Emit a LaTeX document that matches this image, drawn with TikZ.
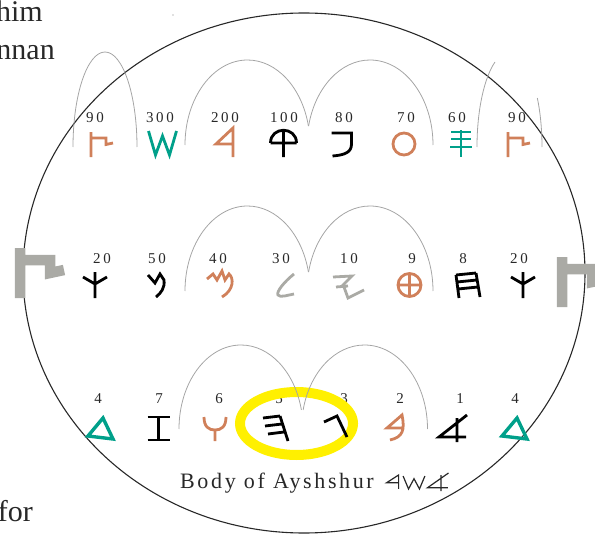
\documentclass[tikz,border=0pt]{standalone}
\usepackage{fontspec}
\setmainfont{Liberation Serif}
\newfontfamily\numfont[LetterSpace=18]{Liberation Serif}
\newfontfamily\bodyfont[LetterSpace=12]{Liberation Serif}

\definecolor{phorange}{RGB}{208,128,90}
\definecolor{phteal}{RGB}{0,160,138}
\definecolor{phgray}{RGB}{170,170,165}
\definecolor{arcgray}{RGB}{165,165,165}
\definecolor{ringyellow}{RGB}{255,240,0}
\definecolor{numgray}{RGB}{40,40,40}

% letter shapes, origin at the top centre, y runs downwards
\tikzset{
  phaleph/.pic={\draw (14,0) -- (-14,22) -- (13,22) (4,3) -- (4,27);},
  phbet/.pic={\draw (8,13) -- (-8,13) -- (7,0) .. controls (10,15) and (8,22) .. (-5,25);},
  phgimel/.pic={\draw (-12,6) -- (1,0) -- (11,21);},
  phdalet/.pic={\draw (3,0) -- (-12,18) -- (13,21) -- cycle;},
  phhe/.pic={\draw (-12,2) -- (5,0) (-10,10) -- (7,8) (-7,18) -- (9,16) (5,0) -- (13,25);},
  phwaw/.pic={\draw (-11,0) .. controls (-11,10) and (-6,13) .. (0,13) .. controls (6,13) and (11,10) .. (11,0) (0,13) -- (0,24);},
  phzayin/.pic={\draw (-11,0) -- (11,0) (-11,23) -- (11,23) (0,0) -- (0,23);},
  phheth/.pic={\draw (-11,2) -- (-8,25) (9,0) -- (13,24) (-11,2) -- (9,0) (-10,9) -- (10,7) (-9,16) -- (11,14);},
  phteth/.pic={\draw (0,13) circle[radius=11.5] (-11.5,13) -- (11.5,13) (0,1.5) -- (0,24.5);},
  phyod/.pic={\draw (-15,3) -- (4,2) -- (-6,12) (-12,13) -- (0,12) (-4,13) -- (0,24) -- (16,16);},
  phkaph/.pic={\draw (0,0) -- (0,26) (-12,5) -- (0,12) -- (12,5);},
  phlamed/.pic={\draw (12,2) .. controls (2,10) and (-6,20) .. (-4,23) .. controls (-2,26) and (6,23) .. (12,22);},
  phmem/.pic={\draw (-13,9) -- (-7,4) -- (-3,10) -- (2,1) -- (5,10) -- (9,4) .. controls (14,8) and (14,20) .. (2,27);},
  phnun/.pic={\draw (-9,3) -- (-2,11) -- (3,2) -- (7,8) .. controls (8,16) and (4,21) .. (-1,25);},
  phsamekh/.pic={\draw (-10,2) -- (10,2) (-10,9) -- (10,9) (-11,17) -- (11,17) (0,0) -- (0,27);},
  phayin/.pic={\draw (0,12) circle[radius=11];},
  phpe/.pic={\draw (-10,1) -- (10,1) -- (10,12) .. controls (10,20) and (4,23) .. (-9,24);},
  phtsade/.pic={\draw (-10,0) -- (-10,25) (-10,6) -- (5,6) -- (5,12.5) -- (12,11);},
  phqoph/.pic={\draw (-13,12) -- (13,12) (-13,12) .. controls (-13,-5) and (13,-5) .. (13,12) (0,-1) -- (0,26);},
  phresh/.pic={\draw (8,29) -- (8,0) -- (-9,16) -- (8,16);},
  phshin/.pic={\draw (-14,0) -- (-7,24) -- (0,5) -- (7,24) -- (14,0);},
}

\begin{document}
\begin{tikzpicture}[x=1pt, y=-1pt,
    glyph/.style={line width=2.8pt, line join=miter},
    num/.style={font=\numfont\fontsize{15}{17}\selectfont, text=numgray, anchor=base, inner sep=0pt},
    pagetext/.style={font=\fontsize{30}{30}\selectfont, text=numgray, anchor=base east, inner sep=0pt},
    arch/.style={arcgray, line width=0.8pt}]
  \useasboundingbox (0,0) rectangle (595,535);
  \clip (0,0) rectangle (595,535);

  % running text at the page edge
  \node[pagetext] (him) at (43,22) {him};
  \node[pagetext] (nnan) at (55,60) {nnan};
  \node[pagetext] (for) at (33,521) {for};
  \fill[numgray!60] (173,15) circle[radius=0.7];

  % outer ring
  \draw[line width=1.1pt, numgray] (304,273) ellipse[x radius=281, y radius=260];

  % values, top row
  \node[num] (v90a) at (95,122) {90};
  \node[num] (v300) at (160,122) {300};
  \node[num] (v200) at (225,122) {200};
  \node[num] (v100) at (284,122) {100};
  \node[num] (v80) at (344,122) {80};
  \node[num] (v70) at (406,122) {70};
  \node[num] (v60) at (457,122) {60};
  \node[num] (v90b) at (517,122) {90};

  % values, middle row
  \node[num] (v20a) at (102,263) {20};
  \node[num] (v50) at (157,263) {50};
  \node[num] (v40) at (218,263) {40};
  \node[num] (v30) at (281,263) {30};
  \node[num] (v10) at (349,263) {10};
  \node[num] (v9) at (412,263) {9};
  \node[num] (v8) at (463,263) {8};
  \node[num] (v20b) at (519,263) {20};

  % values, bottom row
  \node[num] (v4a) at (98,403) {4};
  \node[num] (v7) at (159,403) {7};
  \node[num] (v6) at (219,403) {6};
  \node[num] (v5) at (279,403) {5};
  \node[num] (v3) at (344,403) {3};
  \node[num] (v2) at (400,403) {2};
  \node[num] (v1) at (460,403) {1};
  \node[num] (v4b) at (515,403) {4};

  % highlight on the bottom row
  \draw[ringyellow, line width=10pt] (296.5,423.5) ellipse[x radius=56.5, y radius=31.5];

  % arches over the rows
  \draw[arch] (73,147) arc[start angle=180, end angle=360, x radius=32, y radius=95];
  \draw[arch] (185,145) arc[start angle=180, end angle=347.1, x radius=62.5, y radius=85];
  \draw[arch] (433,145) arc[start angle=0, end angle=-167.1, x radius=63, y radius=85];
  \draw[arch] (477,147) arc[start angle=180, end angle=243.5, x radius=32.5, y radius=95];
  \draw[arch] (542,147) arc[start angle=0, end angle=-31, x radius=32.5, y radius=95];

  \draw[arch] (185,291) arc[start angle=180, end angle=347.1, x radius=62.5, y radius=85];
  \draw[arch] (433,291) arc[start angle=0, end angle=-167.1, x radius=63, y radius=85];

  \draw[arch] (179,429) arc[start angle=180, end angle=346.9, x radius=62, y radius=84];
  \draw[arch] (427.5,429) arc[start angle=0, end angle=-166.9, x radius=63, y radius=84];

  % letters, top row
  \pic[glyph, phorange] at (101,132) {phtsade};
  \pic[glyph, phteal] at (162.5,131) {phshin};
  \pic[glyph, phorange] at (225,128) {phresh};
  \pic[glyph, black] at (283.5,131) {phqoph};
  \pic[glyph, black] at (341.5,132) {phpe};
  \pic[glyph, phorange] at (404,132) {phayin};
  \pic[glyph, phteal] at (461,130) {phsamekh};
  \pic[glyph, phorange] at (518,132) {phtsade};

  % letters, middle row
  \pic[line width=10.5pt, phgray, scale=2] at (40,248) {phtsade};
  \pic[glyph, black] at (95,272) {phkaph};
  \pic[glyph, black] at (157,272) {phnun};
  \pic[glyph, phorange] at (220,270) {phmem};
  \pic[glyph, phgray] at (282,272) {phlamed};
  \pic[glyph, phgray] at (348,274) {phyod};
  \pic[glyph, phorange] at (409.5,272) {phteth};
  \pic[glyph, black] at (467,273) {phheth};
  \pic[glyph, black] at (523,272) {phkaph};
  \pic[line width=10.5pt, phgray, scale=2] at (582,257) {phtsade};

  % letters, bottom row
  \pic[glyph, phteal, line width=3.4pt] at (100,418) {phdalet};
  \pic[glyph, black] at (158.5,417) {phzayin};
  \pic[glyph, phorange] at (215,417) {phwaw};
  \pic[glyph, black] at (275,416) {phhe};
  \pic[glyph, black] at (336,416) {phgimel};
  \pic[glyph, phorange] at (395,415) {phbet};
  \pic[glyph, black] at (453,415) {phaleph};
  \pic[glyph, phteal, line width=3.4pt] at (514,418) {phdalet};

  % caption with the name in letters
  \node[font=\bodyfont\fontsize{22}{24}\selectfont, text=numgray, anchor=base west, inner sep=0pt] (body) at (180,488) {Body of Ayshshur};
  \pic[line width=1.2pt, numgray, xscale=0.7, yscale=0.48] at (393,475) {phresh};
  \pic[line width=1.2pt, numgray, xscale=0.78, yscale=0.54] at (414,476) {phshin};
  \pic[line width=1.2pt, numgray, xscale=0.75, yscale=0.67] at (438,473) {phaleph};
\end{tikzpicture}
\end{document}
